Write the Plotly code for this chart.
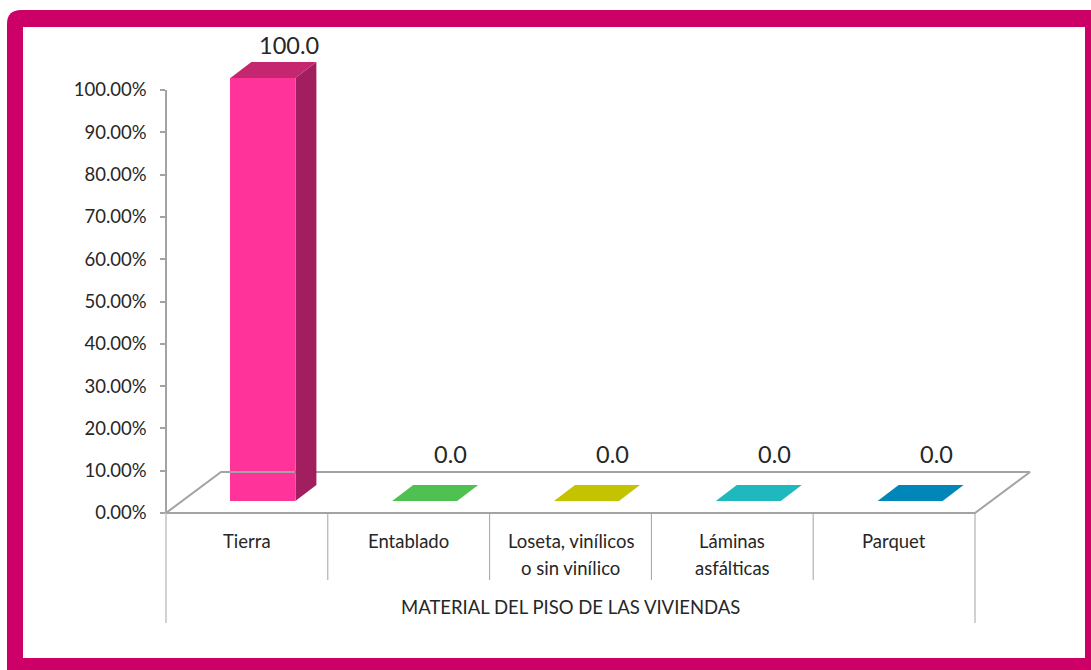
import plotly.graph_objects as go

# ---------------- data ----------------
categories = ["Tierra", "Entablado", "Loseta, vinílicos<br>o sin vinílico", "Láminas<br>asfálticas", "Parquet"]
values = [100.0, 0.0, 0.0, 0.0, 0.0]
y_tick_values = [0, 10, 20, 30, 40, 50, 60, 70, 80, 90, 100]
y_tick_labels = [f"{v:.2f}%" for v in y_tick_values]
axis_title = "MATERIAL DEL PISO DE LAS VIVIENDAS"

front_colors = ["#FF3399", "#4FC150", "#C4C300", "#1FB8BD", "#0086B8"]
top_colors = ["#C4266F", "#4FC150", "#C4C300", "#1FB8BD", "#0086B8"]
side_colors = ["#A11F5E", "#3A9A3B", "#9A9900", "#178F93", "#00678F"]

# ---------------- geometry / style ----------------
FIG_W, FIG_H = 1091, 670
PLOT_L, PLOT_R, PLOT_T, PLOT_B = 156, 1080, 30, 655
AXIS_X_PX, ZERO_Y_PX = 166, 513
PX_PER_CAT, PX_PER_PCT = 161.8, 4.23

x0 = -(AXIS_X_PX - PLOT_L) / PX_PER_CAT
x1 = x0 + (PLOT_R - PLOT_L) / PX_PER_CAT
ymax = (ZERO_Y_PX - PLOT_T) / PX_PER_PCT
ymin = -(PLOT_B - ZERO_Y_PX) / PX_PER_PCT

def ux(px):
    return px / PX_PER_CAT

def uy(px):
    return px / PX_PER_PCT

FLOOR_DX, FLOOR_DY = ux(55), uy(41)
PLANE_DX, PLANE_DY = ux(16), uy(12)
BAR_W = ux(65)
BAR_DX, BAR_DY = ux(21), uy(16)

GRAY = "#A3A3A3"
TEXT = "#262626"
FONT = "Lato"
MAGENTA = "#CC0066"

W = PLOT_R - PLOT_L
H = PLOT_B - PLOT_T

def paper_x(px):
    return (px - PLOT_L) / W

def paper_y(py):
    return (PLOT_B - py) / H

fig = go.Figure()

# floor outline
n = len(categories)
fig.add_trace(go.Scatter(
    x=[0, n, n + FLOOR_DX, FLOOR_DX, 0],
    y=[0, 0, FLOOR_DY, FLOOR_DY, 0],
    mode="lines", line=dict(color=GRAY, width=2),
    hoverinfo="skip", showlegend=False))

# category dividers below the floor
div_x, div_y = [], []
for i in range(n + 1):
    bottom = -uy(110) if i in (0, n) else -uy(67)
    div_x += [i, i, None]
    div_y += [0, bottom, None]
fig.add_trace(go.Scatter(x=div_x, y=div_y, mode="lines",
                         line=dict(color=GRAY, width=1),
                         hoverinfo="skip", showlegend=False))

# bars: front faces
centers = [i + 0.5 + PLANE_DX for i in range(n)]
fig.add_trace(go.Bar(
    x=centers, y=values, base=PLANE_DY, width=BAR_W,
    marker=dict(color=front_colors, line=dict(width=0)),
    hoverinfo="skip", showlegend=False))

# bars: side and top faces
for i, v in enumerate(values):
    left = centers[i] - BAR_W / 2
    right = centers[i] + BAR_W / 2
    b = PLANE_DY
    t = PLANE_DY + v
    if v > 0:
        fig.add_trace(go.Scatter(
            x=[right, right + BAR_DX, right + BAR_DX, right, right],
            y=[b, b + BAR_DY, t + BAR_DY, t, b],
            fill="toself", fillcolor=side_colors[i], mode="lines",
            line=dict(width=0, color=side_colors[i]),
            hoverinfo="skip", showlegend=False))
    fig.add_trace(go.Scatter(
        x=[left, right, right + BAR_DX, left + BAR_DX, left],
        y=[t, t, t + BAR_DY, t + BAR_DY, t],
        fill="toself", fillcolor=top_colors[i], mode="lines",
        line=dict(width=0, color=top_colors[i]),
        hoverinfo="skip", showlegend=False))

# dummy trace on the tick axis so it is drawn
fig.add_trace(go.Scatter(x=[0], y=[0], yaxis="y2", mode="lines",
                         hoverinfo="skip", showlegend=False))

annotations = []
# data labels
for i, v in enumerate(values):
    annotations.append(dict(
        x=centers[i] + ux(26), y=PLANE_DY + v + BAR_DY,
        xref="x", yref="y", text=f"{v:.1f}", showarrow=False,
        yanchor="middle", xanchor="center", yshift=17 if v > 0 else 31,
        font=dict(family=FONT, size=23.5, color=TEXT)))
# category labels (one annotation per text line)
for i, c in enumerate(categories):
    for j, line in enumerate(c.split("<br>")):
        annotations.append(dict(
            x=i + 0.5, y=-uy(28 + 27 * j), xref="x", yref="y", text=line,
            showarrow=False, yanchor="middle", xanchor="center",
            font=dict(family=FONT, size=18.5, color=TEXT)))
# axis title
annotations.append(dict(
    x=n / 2, y=-uy(94), xref="x", yref="y", text=axis_title, showarrow=False,
    yanchor="middle", xanchor="center",
    font=dict(family=FONT, size=18.5, color=TEXT)))

# frame
shapes = [
    dict(type="path", xref="paper", yref="paper", layer="below",
         path=(f"M {paper_x(7)} {paper_y(680)} L {paper_x(7)} {paper_y(24)} "
               f"Q {paper_x(7)} {paper_y(10)} {paper_x(21)} {paper_y(10)} "
               f"L {paper_x(1100)} {paper_y(10)} L {paper_x(1100)} {paper_y(680)} Z"),
         fillcolor=MAGENTA, line=dict(width=0)),
    dict(type="rect", xref="paper", yref="paper", layer="below",
         x0=paper_x(23), x1=paper_x(1085), y0=paper_y(658), y1=paper_y(27),
         fillcolor="white", line=dict(width=0)),
]

d0 = (0 - ymin) / (ymax - ymin)
d1 = (100 - ymin) / (ymax - ymin)

fig.update_layout(
    width=FIG_W, height=FIG_H,
    margin=dict(l=PLOT_L, r=FIG_W - PLOT_R, t=PLOT_T, b=FIG_H - PLOT_B,
                pad=0, autoexpand=False),
    paper_bgcolor="white", plot_bgcolor="rgba(0,0,0,0)",
    showlegend=False, bargap=0,
    xaxis=dict(range=[x0, x1], visible=False, fixedrange=True, automargin=False),
    yaxis=dict(range=[ymin, ymax], visible=False, fixedrange=True, automargin=False),
    yaxis2=dict(domain=[d0, d1], range=[0, 100], anchor="free",
                position=paper_x(AXIS_X_PX), side="left", automargin=False,
                showline=True, linecolor=GRAY, linewidth=1.5,
                ticks="outside", ticklen=5, tickcolor=GRAY, tickwidth=1.5,
                tickvals=y_tick_values, ticktext=y_tick_labels,
                tickfont=dict(family=FONT, size=18.5, color=TEXT),
                ticklabelstandoff=10,
                showgrid=False, zeroline=False, fixedrange=True),
    annotations=annotations,
    shapes=shapes,
)

fig.write_html("out.html")
